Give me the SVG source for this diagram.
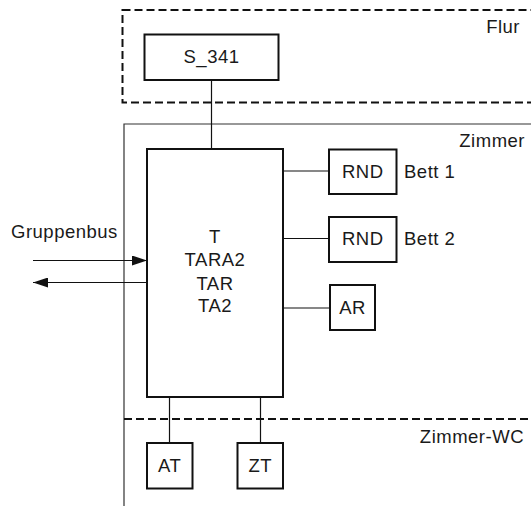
<svg xmlns="http://www.w3.org/2000/svg" width="531" height="506" viewBox="0 0 531 506">
<style>
text{font-family:"Liberation Sans",Arial,sans-serif;font-size:18.5px;fill:#1a1a1a;letter-spacing:0.5px}
.c{text-anchor:middle}
.e{text-anchor:end}
.box{fill:#fff;stroke:#111;stroke-width:2}
.dash{fill:none;stroke:#111;stroke-width:2;stroke-dasharray:8 4}
.thin{fill:none;stroke:#333;stroke-width:1.2}
.wire{fill:none;stroke:#111;stroke-width:1.2}
</style>
<defs>
<marker id="ah" markerWidth="15" markerHeight="10" refX="15" refY="5" orient="auto" markerUnits="userSpaceOnUse">
<path d="M0,0 L15,5 L0,10 Z" fill="#111"/>
</marker>
</defs>
<g id="areas">
<rect class="dash" x="122.5" y="10" width="430" height="92.5"/>
<text x="520" y="33" class="e">Flur</text>
<path class="thin" d="M531,124 H124 V506"/>
<text x="525" y="147" class="e">Zimmer</text>
<line class="dash" x1="124" y1="419" x2="531" y2="419"/>
<text x="524" y="443" class="e">Zimmer-WC</text>
</g>
<g id="connectors">
<line class="wire" x1="211.5" y1="80" x2="211.5" y2="148"/>
<line class="wire" x1="283" y1="171" x2="329" y2="171"/>
<line class="wire" x1="283" y1="238.5" x2="329" y2="238.5"/>
<line class="wire" x1="283" y1="308" x2="330" y2="308"/>
<line class="wire" x1="169.5" y1="397" x2="169.5" y2="443"/>
<line class="wire" x1="260.5" y1="397" x2="260.5" y2="443"/>
<line class="wire" x1="33" y1="260.5" x2="147" y2="260.5" marker-end="url(#ah)"/>
<line class="wire" x1="147" y1="282.5" x2="33" y2="282.5" marker-end="url(#ah)"/>
<text x="11" y="237.5">Gruppenbus</text>
</g>
<g id="S_341">
<rect class="box" x="144.5" y="34.5" width="134" height="45.5"/>
<text x="211.5" y="63" class="c">S_341</text>
</g>
<g id="T">
<rect class="box" x="147" y="149" width="136" height="248"/>
<text x="215" y="243" class="c">T</text>
<text x="215" y="266" class="c">TARA2</text>
<text x="215" y="290" class="c">TAR</text>
<text x="215" y="312" class="c">TA2</text>
</g>
<g id="RND1">
<rect class="box" x="329" y="149.5" width="67.5" height="44.5"/>
<text x="362.75" y="178" class="c">RND</text>
<text x="404" y="177.5">Bett 1</text>
</g>
<g id="RND2">
<rect class="box" x="329" y="217" width="67.5" height="45"/>
<text x="362.75" y="245" class="c">RND</text>
<text x="404" y="245">Bett 2</text>
</g>
<g id="AR">
<rect class="box" x="330" y="285" width="45" height="45"/>
<text x="352.5" y="314" class="c">AR</text>
</g>
<g id="AT">
<rect class="box" x="147" y="443" width="45.5" height="45.5"/>
<text x="169.75" y="472" class="c">AT</text>
</g>
<g id="ZT">
<rect class="box" x="237.5" y="443" width="45.5" height="45.5"/>
<text x="260.25" y="472" class="c">ZT</text>
</g>
</svg>
